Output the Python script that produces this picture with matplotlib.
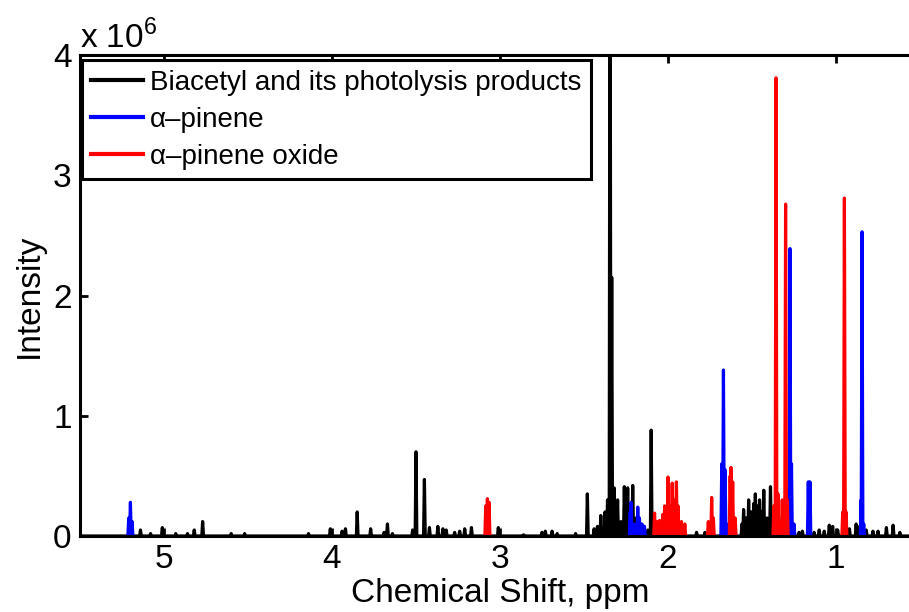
import numpy as np
import matplotlib
matplotlib.use("Agg")
import matplotlib.pyplot as plt

plt.rcParams['font.family'] = ['Liberation Sans', 'DejaVu Sans']
plt.rcParams['mathtext.fontset'] = 'custom'
plt.rcParams['mathtext.rm'] = 'Liberation Sans'

# peak positions (ppm) and intensities (x 10^6)
black_ppm = [5.14, 5.08, 5.01, 4.93, 4.86, 4.82, 4.77, 4.60, 4.52, 4.14, 4.01, 3.94, 3.92,
             3.85, 3.77, 3.69, 3.67, 3.64, 3.52, 3.50, 3.45, 3.42, 3.37, 3.34, 3.32, 3.27,
             3.24, 3.21, 3.17, 3.01, 2.86, 2.75, 2.73, 2.69, 2.66, 2.55, 2.48, 2.44, 2.42,
             2.40, 2.375, 2.36, 2.345, 2.335, 2.32, 2.30, 2.28, 2.26, 2.25, 2.24, 2.225,
             2.21, 2.19, 2.17, 2.12, 2.10, 2.085, 1.83, 1.78, 1.56, 1.55, 1.535, 1.52,
             1.505, 1.49, 1.48, 1.465, 1.455, 1.44, 1.43, 1.41, 1.39, 1.37, 1.33, 1.25,
             1.22, 1.20, 1.13, 1.10, 1.07, 1.04, 1.02, 0.99, 0.92, 0.88, 0.86, 0.82, 0.78,
             0.75, 0.70, 0.66, 0.62]
black_int = [0.05, 0.02, 0.07, 0.02, 0.02, 0.05, 0.12, 0.02, 0.02, 0.02, 0.06, 0.04, 0.06,
             0.20, 0.06, 0.03, 0.10, 0.02, 0.05, 0.70, 0.47, 0.07, 0.08, 0.06, 0.05, 0.03,
             0.04, 0.06, 0.07, 0.07, 0.01, 0.03, 0.04, 0.04, 0.02, 0.02, 0.35, 0.06, 0.08,
             0.17, 0.20, 0.30, 6.00, 2.15, 0.40, 0.30, 0.12, 0.41, 0.30, 0.40, 0.25,
             0.42, 0.15, 0.06, 0.05, 0.88, 0.08, 0.03, 0.03, 0.10, 0.22, 0.15, 0.30,
             0.20, 0.27, 0.35, 0.25, 0.30, 0.20, 0.38, 0.15, 0.41, 0.15, 0.10, 0.05,
             0.03, 0.04, 0.03, 0.05, 0.04, 0.09, 0.08, 0.05, 0.06, 0.10, 0.08, 0.05, 0.04,
             0.04, 0.07, 0.09, 0.03]

blue_ppm = [5.21, 5.20, 5.19, 2.225, 2.22, 2.20, 2.18, 2.17, 2.155, 2.14, 1.68, 1.67, 1.66,
            1.64, 1.28, 1.274, 1.265, 1.25, 1.165, 1.155, 0.85, 0.845, 0.835]
blue_int = [0.15, 0.28, 0.12, 0.20, 0.28, 0.10, 0.24, 0.15, 0.10, 0.08, 0.60, 1.38, 0.55,
            0.10, 0.40, 2.39, 0.60, 0.10, 0.45, 0.45, 0.30, 2.53, 0.10]

red_ppm = [3.085, 3.075, 3.065, 2.08, 2.065, 2.05, 2.03, 2.02, 2.00, 1.99, 1.975, 1.965,
           1.95, 1.94, 1.92, 1.90, 1.76, 1.74, 1.73, 1.63, 1.625, 1.615, 1.60, 1.37, 1.357,
           1.345, 1.32, 1.30, 1.29, 0.96, 0.95, 0.94]
red_int = [0.25, 0.31, 0.28, 0.19, 0.12, 0.13, 0.18, 0.25, 0.49, 0.25, 0.44, 0.30,
           0.45, 0.25, 0.12, 0.10, 0.12, 0.32, 0.15, 0.50, 0.57, 0.45, 0.15, 0.25, 3.81,
           0.35, 0.30, 2.76, 0.30, 0.20, 2.81, 0.20]

labels = ['Biacetyl and its photolysis products', u'\u03b1\u2013pinene', u'\u03b1\u2013pinene oxide']


def trace(ppm, inten, w=0.005, gap=0.06, full=None):
    # turn a peak list into a stick-like polyline, NaN between separate groups
    order = np.argsort(ppm)[::-1]
    xs, ys = [], []
    if full:
        xs.append(full[0]); ys.append(0)
    prev = None
    for i in order:
        p, h = ppm[i], inten[i]
        if prev is not None and prev - p > gap and not full:
            xs.append(np.nan); ys.append(np.nan)
        xs += [p + w, p, p - w]
        ys += [0, h, 0]
        prev = p
    if full:
        xs.append(full[1]); ys.append(0)
    return np.array(xs), np.array(ys)


fig = plt.figure(figsize=(9.09, 6.12), dpi=100)
ax = fig.add_axes([80 / 909, 76 / 612, 840 / 909, 481 / 612])

x, y = trace(black_ppm, black_int, full=(5.6, 0.4))
ax.plot(x, y, color='black', lw=2.3, label=labels[0])
x, y = trace(blue_ppm, blue_int)
ax.plot(x, y, color='blue', lw=2.3, label=labels[1])
x, y = trace(red_ppm, red_int)
ax.plot(x, y, color='red', lw=2.3, label=labels[2])

ax.set_xlim(5.5, 0.5)
ax.set_ylim(0, 4)
ax.set_xticks([5, 4, 3, 2, 1])
ax.set_yticks([0, 1, 2, 3, 4])
ax.tick_params(direction='in', length=6, width=2, labelsize=24, top=True, right=True, pad=6)
for s in ax.spines.values():
    s.set_linewidth(2.2)

ax.set_xlabel('Chemical Shift, ppm', fontsize=24, labelpad=2)
ax.set_ylabel('Intensity', fontsize=24, labelpad=6)
ax.text(0.0, 1.0, r'x 10$^{6}$', transform=ax.transAxes, fontsize=24, ha='left', va='bottom')

leg = ax.legend(loc='upper left', bbox_to_anchor=(0.002, 0.99), fontsize=20,
                fancybox=False, framealpha=1, edgecolor='black', borderaxespad=0,
                handlelength=1.85, handletextpad=0.25, labelspacing=0.4, borderpad=0.35)
leg.get_frame().set_linewidth(2.2)
for h in leg.get_lines():
    h.set_linewidth(3)

fig.savefig('out.png', dpi=100)
